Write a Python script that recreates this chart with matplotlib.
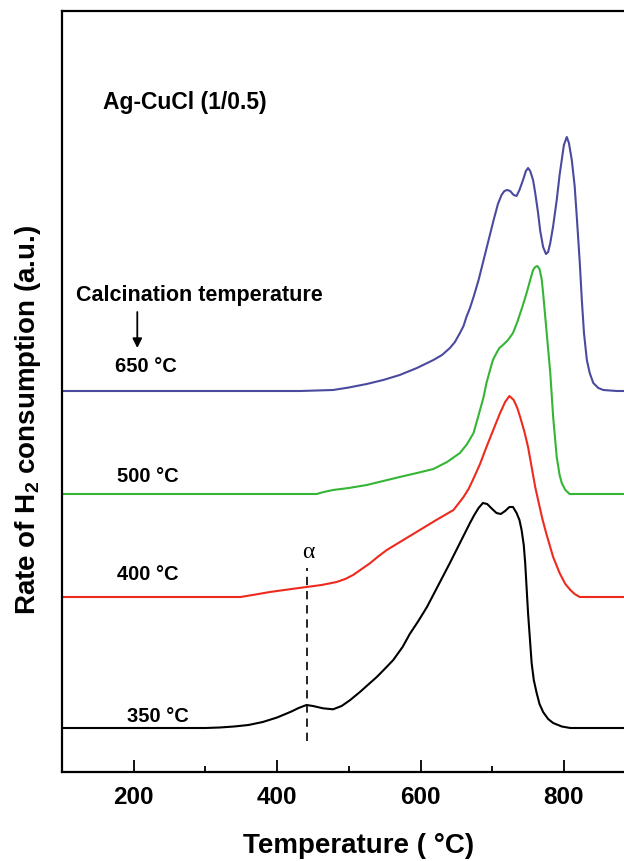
import matplotlib
matplotlib.use("Agg")
import matplotlib.pyplot as plt
from matplotlib.ticker import MultipleLocator

plt.rcParams['font.family'] = ['Liberation Sans', 'DejaVu Sans']
plt.rcParams['mathtext.default'] = 'regular'

# ---- data (temperature in deg C, signal in a.u. above each baseline) ----
calc_labels = ["350 \u00b0C", "400 \u00b0C", "500 \u00b0C", "650 \u00b0C"]
offsets = [4.4, 17.5, 27.8, 38.1]
colors = ["#000000", "#EE2A1E", "#35B535", "#4A4A9E"]

t_350 = [100, 300, 320, 340, 360, 380, 400, 420, 430, 441, 450, 464, 478, 490, 502,
         516, 528, 539, 550, 562, 575, 585, 597, 609, 625, 641, 655, 669, 675, 681,
         687, 693, 700, 706, 712, 718, 724, 729, 734, 738, 741, 744, 746, 748, 750,
         753, 755, 758, 762, 766, 771, 778, 785, 797, 809, 900]
h_350 = [0, 0, 0.05, 0.15, 0.3, 0.6, 1.05, 1.65, 2.0, 2.3, 2.2, 1.97, 1.87, 2.2, 2.8,
         3.63, 4.4, 5.1, 5.9, 6.8, 8.1, 9.4, 10.7, 12.1, 14.3, 16.5, 18.5, 20.5, 21.3, 22.0,
         22.5, 22.4, 21.9, 21.5, 21.4, 21.7, 22.1, 22.1, 21.5, 20.8, 19.8, 18.3, 16.5, 14.0, 11.5,
         8.5, 6.5, 4.8, 3.5, 2.4, 1.6, 0.9, 0.5, 0.15, 0, 0]

t_400 = [100, 349, 370, 390, 415, 441, 462, 483, 495, 506, 518, 530, 541, 553, 576,
         599, 622, 646, 660, 667, 673, 683, 692, 702, 711, 718, 724, 730, 735, 739,
         745, 750, 755, 760, 764, 770, 776, 785, 794, 802, 809, 815, 822, 900]
h_400 = [0, 0, 0.25, 0.5, 0.75, 1.0, 1.2, 1.5, 1.8, 2.2, 2.8, 3.4, 4.05, 4.7, 5.7,
         6.7, 7.7, 8.7, 10.0, 10.8, 11.7, 13.3, 15.0, 16.8, 18.4, 19.5, 20.1, 19.7, 18.9, 18.0,
         16.5, 15.0, 13.0, 11.0, 9.7, 7.8, 6.2, 4.0, 2.4, 1.3, 0.7, 0.3, 0, 0]

t_500 = [100, 455, 465, 478, 500, 525, 548, 571, 595, 618, 637, 655, 665, 674, 683,
         688, 692, 697, 701, 706, 710, 715, 722, 729, 735, 742, 748, 753, 757, 760,
         763, 766, 769, 771, 776, 781, 785, 790, 794, 797, 802, 808, 900]
h_500 = [0, 0, 0.2, 0.4, 0.6, 0.9, 1.3, 1.7, 2.1, 2.5, 3.2, 4.1, 5.0, 6.1, 8.4,
         9.7, 11.1, 12.4, 13.4, 14.1, 14.6, 14.9, 15.4, 16.1, 17.2, 18.7, 20.1, 21.4, 22.4, 22.7,
         22.8, 22.5, 21.5, 20.1, 16.1, 12.1, 7.7, 3.7, 1.9, 1.1, 0.4, 0, 0]

t_650 = [100, 432, 455, 478, 500, 525, 548, 571, 595, 618, 630, 641, 648, 655, 660,
         664, 669, 674, 681, 688, 695, 702, 708, 713, 717, 721, 725, 730, 734, 738,
         743, 747, 750, 753, 757, 760, 764, 767, 771, 775, 778, 781, 785, 790, 794,
         797, 800, 804, 807, 811, 815, 818, 822, 825, 828, 832, 836, 841, 848, 855,
         874, 900]
h_650 = [0, 0, 0.05, 0.1, 0.35, 0.7, 1.1, 1.6, 2.3, 3.1, 3.6, 4.3, 4.9, 5.8, 6.5,
         7.4, 8.3, 9.4, 11.1, 13.1, 15.1, 17.1, 18.7, 19.6, 20.0, 20.1, 20.0, 19.6, 19.5, 20.1,
         21.1, 22.0, 22.3, 22.0, 21.1, 19.8, 17.8, 16.0, 14.4, 13.7, 13.9, 14.8, 16.5, 19.1, 21.6,
         23.1, 24.6, 25.4, 24.8, 23.1, 20.5, 17.4, 13.0, 9.1, 5.8, 3.1, 1.8, 0.8, 0.3, 0.1,
         0, 0]

alpha_T = 442
x_ticks = [200, 400, 600, 800]

series_t = [t_350, t_400, t_500, t_650]
series_h = [h_350, h_400, h_500, h_650]

W, H = 624, 861
fig = plt.figure(figsize=(W / 100, H / 100), dpi=100)
ax_left, ax_right, ax_top, ax_bottom = 62, 635.6, 10.7, 772
ax = fig.add_axes([ax_left / W, (H - ax_bottom) / H, (ax_right - ax_left) / W,
                   (ax_bottom - ax_top) / H])
ax.set_xlim(100, 900)
ax.set_ylim(0, 76.13)

for t, h, off, c in zip(series_t, series_h, offsets, colors):
    ax.plot(t, [v + off for v in h], color=c, lw=1.5, solid_joinstyle='round',
            solid_capstyle='round')

# labels for curves
label_x = [191, 177, 177, 174]
label_y = [5.5, 19.7, 29.5, 40.5]
for lab, lx, ly in zip(calc_labels, label_x, label_y):
    ax.text(lx, ly, lab, fontsize=14.5, fontweight='bold', ha='left', va='center')

# alpha marker
ax.plot([alpha_T, alpha_T], [3.1, 20.4], color='black', lw=1.2, ls=(0, (5, 3.5)))
ax.text(alpha_T + 1, 21.9, "\u03b1", fontsize=17, family=['Liberation Serif', 'DejaVu Serif'],
        ha='center', va='center')

ax.text(157, 67.0, "Ag-CuCl (1/0.5)", fontsize=16.5, fontweight='bold', ha='left', va='center')
ax.text(120, 47.6, "Calcination temperature", fontsize=15.5, fontweight='bold',
        ha='left', va='center')
ax.annotate("", xy=(205, 42.4), xytext=(205, 46.0),
            arrowprops=dict(arrowstyle='-|>', color='black', lw=1.3,
                            mutation_scale=14, shrinkA=0, shrinkB=0))

# axes styling
for s in ax.spines.values():
    s.set_linewidth(1.6)
ax.xaxis.set_major_locator(MultipleLocator(200))
ax.xaxis.set_minor_locator(MultipleLocator(100))
ax.set_xticks(x_ticks)
ax.tick_params(axis='x', which='major', direction='in', length=8.5, width=1.3,
               labelsize=17.5, pad=10)
ax.tick_params(axis='x', which='minor', direction='in', length=4.3, width=1.3)
ax.tick_params(axis='y', left=False, labelleft=False)
for lab in ax.get_xticklabels():
    lab.set_fontweight('bold')

fig.text(359 / W, (H - 846) / H, "Temperature ( \u00b0C)", fontsize=20, fontweight='bold',
         ha='center', va='center')
fig.text(28 / W, (H - 420) / H, "Rate of H$_2$ consumption (a.u.)", fontsize=20,
         fontweight='bold', ha='center', va='center', rotation=90)

fig.savefig("out.png", dpi=100)
